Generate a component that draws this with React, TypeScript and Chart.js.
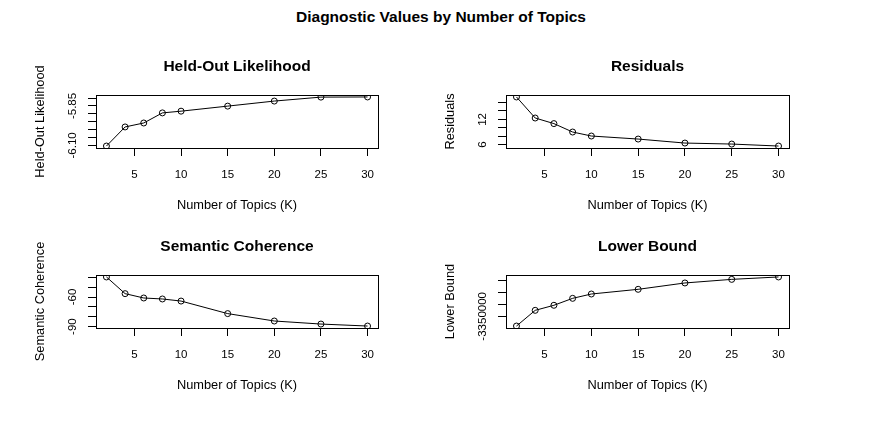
import React, { useEffect, useRef } from "react";
import { Chart, registerables } from "chart.js";

Chart.register(...registerables);

// ---------- data ----------
const topicsK = [2, 4, 6, 8, 10, 15, 20, 25, 30];
const heldoutValues = [-6.104, -5.983, -5.958, -5.894, -5.883, -5.851, -5.819, -5.794, -5.793];
const residualValues = [17.33, 12.33, 11.0, 9.0, 8.05, 7.33, 6.38, 6.14, 5.67];
const semcohValues = [-39.7, -56.6, -61.0, -62.0, -64.1, -76.8, -84.3, -87.4, -89.4];
const boundValues = [-3390400, -3325000, -3304000, -3275000, -3257000, -3237500, -3211000, -3196000, -3186000];

const xTickStep = 5;
const heldoutTickStep = 0.05;
const residualTickStep = 2;
const semcohTickStep = 10;
const boundTickStep = 50000;

// tick labels that R actually prints (others dropped for overlap)
const heldoutTickLabels = [-6.1, -5.85];
const residualTickLabels = [6, 12];
const semcohTickLabels = [-90, -60];
const boundTickLabels = [-3350000];

const mainTitle = "Diagnostic Values by Number of Topics";
const xAxisTitle = "Number of Topics (K)";

// ---------- styles ----------
const FONT = "'Liberation Sans', Arial, sans-serif";
const TITLE_SIZE = 15.5;
const LAB_SIZE = 12.8;
const TICK_SIZE = 11.5;

type PanelSpec = {
  title: string;
  yTitle: string;
  values: number[];
  yStep: number;
  labels: number[];
  decimals: number;
  left: number;
  top: number;
  width: number;
  boxLeft: number;
  boxRight: number;
  yTitleX: number;
};

const CANVAS_H = 190;
const BOX_TOP = 60;
const BOX_BOTTOM = 113;

const panels: PanelSpec[] = [
  { title: "Held-Out Likelihood", yTitle: "Held-Out Likelihood", values: heldoutValues, yStep: heldoutTickStep, labels: heldoutTickLabels, decimals: 2, left: 0, top: 35, width: 442, boxLeft: 96, boxRight: 378, yTitleX: 40.7 },
  { title: "Residuals", yTitle: "Residuals", values: residualValues, yStep: residualTickStep, labels: residualTickLabels, decimals: 0, left: 442, top: 35, width: 443, boxLeft: 64, boxRight: 347, yTitleX: 8.7 },
  { title: "Semantic Coherence", yTitle: "Semantic Coherence", values: semcohValues, yStep: semcohTickStep, labels: semcohTickLabels, decimals: 0, left: 0, top: 215, width: 442, boxLeft: 96, boxRight: 378, yTitleX: 40.7 },
  { title: "Lower Bound", yTitle: "Lower Bound", values: boundValues, yStep: boundTickStep, labels: boundTickLabels, decimals: 0, left: 442, top: 215, width: 443, boxLeft: 64, boxRight: 347, yTitleX: 8.7 },
];

function rRange(vals: number[]): [number, number] {
  const mn = Math.min(...vals);
  const mx = Math.max(...vals);
  const r = mx - mn;
  return [mn - 0.04 * r, mx + 0.04 * r];
}

function stepTicks(min: number, max: number, step: number) {
  const out: { value: number }[] = [];
  const first = Math.ceil(min / step - 1e-9);
  const last = Math.floor(max / step + 1e-9);
  for (let i = first; i <= last; i++) {
    out.push({ value: Math.round(i * step * 1e6) / 1e6 });
  }
  return out;
}

function Panel({ spec }: { spec: PanelSpec }) {
  const ref = useRef<HTMLCanvasElement | null>(null);
  useEffect(() => {
    if (!ref.current) return;
    const [xmin, xmax] = rRange(topicsK);
    const [ymin, ymax] = rRange(spec.values);
    const titleLH = TITLE_SIZE * 1.2;
    const labLH = LAB_SIZE * 1.2;
    const titlePadTop = 32 - titleLH / 2;
    const titlePadBottom = BOX_TOP - titlePadTop - titleLH;

    const boxPlugin = {
      id: "rbox",
      afterDraw(chart: any) {
        const { ctx, chartArea } = chart;
        ctx.save();
        ctx.strokeStyle = "#000";
        ctx.lineWidth = 1;
        const l = Math.round(chartArea.left) + 0.5;
        const t = Math.round(chartArea.top) + 0.5;
        const r = Math.round(chartArea.right) + 0.5;
        const b = Math.round(chartArea.bottom) + 0.5;
        ctx.strokeRect(l, t, r - l, b - t);
        ctx.restore();
      },
    };

    const yLabelPlugin = {
      id: "rylabels",
      afterDraw(chart: any) {
        const { ctx, chartArea } = chart;
        const ys = chart.scales.y;
        ctx.save();
        ctx.fillStyle = "#000";
        ctx.font = `${TICK_SIZE}px ${FONT}`;
        ctx.textAlign = "center";
        ctx.textBaseline = "middle";
        for (const v of spec.labels) {
          const py = ys.getPixelForValue(v);
          ctx.save();
          ctx.translate(chartArea.left - 23, py);
          ctx.rotate(-Math.PI / 2);
          ctx.fillText(v.toFixed(spec.decimals), 0, 0);
          ctx.restore();
        }
        ctx.restore();
      },
    };

    const chart = new Chart(ref.current, {
      type: "line",
      data: {
        datasets: [
          {
            data: topicsK.map((k, i) => ({ x: k, y: spec.values[i] })),
            borderColor: "#000",
            borderWidth: 1,
            pointRadius: 3,
            pointBorderWidth: 1,
            pointBorderColor: "#000",
            pointBackgroundColor: "rgba(0,0,0,0)",
            fill: false,
            tension: 0,
          },
        ],
      },
      options: {
        animation: false,
        responsive: false,
        events: [],
        layout: { padding: { left: 0, top: 0, right: spec.width - spec.boxRight, bottom: 0 } },
        plugins: {
          legend: { display: false },
          tooltip: { enabled: false },
          title: {
            display: true,
            text: spec.title,
            fullSize: false,
            color: "#000",
            font: { family: FONT, size: TITLE_SIZE, weight: "bold" },
            padding: { top: titlePadTop, bottom: titlePadBottom },
          },
        },
        scales: {
          x: {
            type: "linear",
            min: xmin,
            max: xmax,
            afterBuildTicks: (s: any) => {
              s.ticks = stepTicks(s.min, s.max, xTickStep);
            },
            afterFit: (s: any) => {
              s.height = CANVAS_H - BOX_BOTTOM;
            },
            ticks: {
              autoSkip: false,
              maxRotation: 0,
              color: "#000",
              padding: 12,
              font: { family: FONT, size: TICK_SIZE },
            },
            grid: { drawOnChartArea: false, drawTicks: true, tickLength: 8, color: "#000", lineWidth: 1 },
            border: { display: true, color: "#000", width: 1 },
            title: {
              display: true,
              text: xAxisTitle,
              color: "#000",
              font: { family: FONT, size: LAB_SIZE },
              padding: { top: 0, bottom: 19.5 - labLH / 2 },
            },
          },
          y: {
            type: "linear",
            min: ymin,
            max: ymax,
            afterBuildTicks: (s: any) => {
              s.ticks = stepTicks(s.min, s.max, spec.yStep);
            },
            afterFit: (s: any) => {
              s.width = spec.boxLeft;
            },
            ticks: { display: false },
            grid: { drawOnChartArea: false, drawTicks: true, tickLength: 8, color: "#000", lineWidth: 1 },
            border: { display: true, color: "#000", width: 1 },
            title: {
              display: true,
              text: spec.yTitle,
              color: "#000",
              font: { family: FONT, size: LAB_SIZE },
              padding: { top: spec.yTitleX - labLH / 2, bottom: 0 },
            },
          },
        },
      } as any,
      plugins: [boxPlugin, yLabelPlugin],
    });
    return () => chart.destroy();
  }, [spec]);

  return (
    <canvas
      ref={ref}
      width={spec.width}
      height={CANVAS_H}
      style={{ position: "absolute", left: spec.left, top: spec.top, width: spec.width, height: CANVAS_H }}
    />
  );
}

export default function App() {
  return (
    <div style={{ position: "absolute", left: 0, top: 0, width: 885, height: 424, background: "#fff", overflow: "hidden" }}>
      <div
        style={{
          position: "absolute",
          left: 0,
          top: 7,
          width: 882,
          textAlign: "center",
          fontFamily: FONT,
          fontWeight: "bold",
          fontSize: TITLE_SIZE,
          lineHeight: "20px",
          color: "#000",
        }}
      >
        {mainTitle}
      </div>
      {panels.map((p) => (
        <Panel key={p.title} spec={p} />
      ))}
    </div>
  );
}
